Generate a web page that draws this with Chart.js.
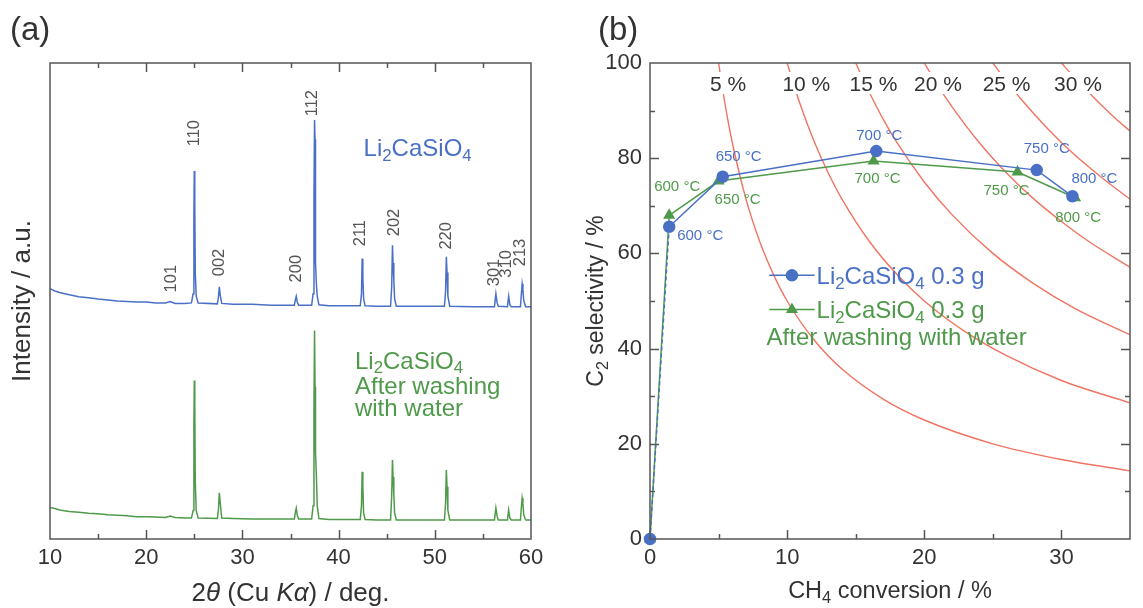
<!DOCTYPE html>
<html>
<head>
<meta charset="utf-8">
<script src="https://cdn.jsdelivr.net/npm/chart.js@4.4.1/dist/chart.umd.min.js"></script>
<style>
  body { margin: 0; background: #fff; }
  #wrap { position: relative; width: 1143px; height: 608px; overflow: hidden; }
  canvas { position: absolute; top: 0; }
  #xrd { left: 0; }
  #ocm { left: 580px; }
</style>
</head>
<body>
<div id="wrap">
  <canvas id="xrd" width="570" height="608"></canvas>
  <canvas id="ocm" width="563" height="608"></canvas>
</div>
<script>
// ---- (a) XRD patterns: 2θ / deg. vs intensity (a.u., offset traces) ----
const twoTheta = [
  10.0, 10.5, 11.0, 12.0, 13.0, 14.0, 15.0, 16.0, 17.0, 18.0, 19.0, 20.0, 21.0, 22.0, 22.5, 23.0, 24.0, 24.7,
  24.88, 24.96, 25.0, 25.05, 25.1, 25.2, 25.4,
  27.4, 27.52, 27.6, 27.7, 27.85,
  29.0, 31.0, 33.0, 35.4, 35.52, 35.6, 35.7, 35.85,
  37.2, 37.35, 37.44, 37.5, 37.55, 37.6, 37.68, 37.78, 37.95,
  39.0, 41.0, 42.25, 42.38, 42.45, 42.52, 42.6, 42.75,
  44.0, 45.4, 45.52, 45.6, 45.66, 45.74, 45.82, 46.0,
  48.0, 51.0, 51.12, 51.2, 51.27, 51.36, 51.55,
  54.0, 56.2, 56.35, 56.48, 56.6, 57.55, 57.68, 57.8, 57.95,
  58.9, 59.02, 59.08, 59.16, 59.25, 59.45, 60.0
];
const asMade = [
  52.6, 52.1, 51.8, 51.3, 50.9, 50.7, 50.4, 50.2, 50.0, 49.9, 49.8, 49.8, 49.6, 49.6, 49.9, 49.5, 49.5, 49.6,
  51.5, 68.0, 77.3, 70.0, 56.0, 51.0, 49.6,
  49.4, 51.0, 53.0, 51.2, 49.5,
  49.3, 49.3, 49.1, 49.1, 50.4, 51.0, 49.8, 49.1,
  49.1, 51.5, 72.0, 88.0, 84.0, 58.0, 54.0, 51.0, 49.2,
  49.0, 49.0, 49.0, 51.5, 58.9, 55.0, 50.5, 49.0,
  48.9, 48.9, 53.0, 61.7, 58.0, 54.5, 50.5, 48.9,
  48.9, 48.9, 52.0, 59.3, 56.0, 51.0, 48.9,
  48.8, 48.8, 51.5, 49.6, 48.9, 48.8, 51.0, 49.2, 48.8,
  48.8, 52.0, 53.6, 52.4, 50.0, 48.8, 48.8
];
const washed = [
  6.6, 6.4, 6.1, 5.8, 5.6, 5.4, 5.3, 5.1, 5.0, 4.9, 4.7, 4.7, 4.6, 4.5, 4.8, 4.5, 4.4, 4.4,
  6.0, 24.0, 33.3, 28.0, 12.0, 6.0, 4.4,
  4.3, 6.5, 9.7, 7.5, 4.4,
  4.3, 4.2, 4.2, 4.2, 5.8, 6.5, 5.0, 4.2,
  4.2, 7.0, 28.0, 43.8, 32.0, 18.0, 14.0, 7.0, 4.3,
  4.1, 4.1, 4.1, 7.0, 14.1, 11.0, 5.5, 4.1,
  4.0, 4.0, 9.0, 16.6, 13.0, 9.5, 5.5, 4.0,
  4.0, 4.0, 7.5, 14.5, 11.0, 6.0, 4.0,
  4.0, 4.0, 6.5, 4.8, 4.0, 4.0, 6.1, 4.4, 4.0,
  4.0, 7.2, 8.6, 7.5, 5.0, 4.0, 4.0
];
// reflection indices with the point (2θ, intensity) where each label starts
const hkl = [
  ['101', 22.6, 51.8], ['110', 25.0, 82.5], ['002', 27.6, 55.2], ['200', 35.6, 53.9],
  ['112', 37.3, 88.8], ['211', 42.3, 61.5], ['202', 45.8, 63.6], ['220', 51.2, 60.8],
  ['301', 56.2, 53.1], ['310', 57.4, 54.9], ['213', 58.9, 57.3]
];

// ---- (b) OCM results: CH4 conversion / % vs C2 selectivity / % ----
const temps = ['', '600 °C', '650 °C', '700 °C', '750 °C', '800 °C'];
const convFresh = [0, 1.4, 5.3, 16.5, 28.2, 30.8];
const selFresh = [0, 65.6, 76.1, 81.5, 77.5, 72.0];
const convWashed = [0, 1.4, 5.0, 16.3, 26.8, 31.0];
const selWashed = [0, 68.0, 75.2, 79.4, 77.1, 71.7];
// iso-yield lines, C2 yield = conversion × selectivity / 100
const yieldLevels = [5, 10, 15, 20, 25, 30];
const iso5 = [[5, 100], [5.5, 90.9], [6, 83.3], [7, 71.4], [8, 62.5], [9, 55.6], [10, 50], [12, 41.7], [14, 35.7], [17, 29.4], [20, 25], [25, 20], [30, 16.7], [35, 14.3]];
const iso10 = [[10, 100], [11, 90.9], [12, 83.3], [13, 76.9], [14, 71.4], [16, 62.5], [18, 55.6], [20, 50], [23, 43.5], [26, 38.5], [30, 33.3], [35, 28.6]];
const iso15 = [[15, 100], [16, 93.8], [17, 88.2], [18, 83.3], [20, 75], [22, 68.2], [25, 60], [28, 53.6], [31, 48.4], [35, 42.9]];
const iso20 = [[20, 100], [21, 95.2], [22, 90.9], [24, 83.3], [26, 76.9], [28, 71.4], [30, 66.7], [32, 62.5], [35, 57.1]];
const iso25 = [[25, 100], [26, 96.2], [27, 92.6], [29, 86.2], [31, 80.6], [33, 75.8], [35, 71.4]];
const iso30 = [[30, 100], [31, 96.8], [32, 93.8], [33, 90.9], [34, 88.2], [35, 85.7]];
const isoLines = [iso5, iso10, iso15, iso20, iso25, iso30];
const isoLabelX = [5.7, 11.4, 16.3, 21.0, 26.0, 31.2];

// temperature label offsets from their points, px
const freshTagOffset = [null, [31, 9], [16, -20], [3, -15], [10, -21], [22, -17]];
const washedTagOffset = [null, [8, -28], [19, 19], [4, 18], [-11, 19], [3, 20]];

const FONT = '"Liberation Sans", Arial, Helvetica, sans-serif';
const INK = '#333';
const FRAME = '#555';
const BLUE = '#4a70c6';
const GREEN = '#4f9a4a';
const RED = '#f07462';

// '_x' -> subscript char, '*...*' -> italic run
function parseRich(str) {
  const parts = [];
  let italic = false, buf = '';
  const flush = () => { if (buf) parts.push([buf, italic ? 'it' : '']); buf = ''; };
  for (let i = 0; i < str.length; i++) {
    const c = str[i];
    if (c === '_') { flush(); parts.push([str[++i], 'sub']); }
    else if (c === '*') { flush(); italic = !italic; }
    else buf += c;
  }
  flush();
  return parts;
}

// y is the vertical middle of the capitals
function drawRich(ctx, str, x, y, size, color, align) {
  const parts = parseRich(str);
  const fontFor = st => (st === 'it' ? 'italic ' : '') + (st === 'sub' ? size * 0.7 : size) + 'px ' + FONT;
  let width = 0;
  const widths = parts.map(([t, st]) => {
    ctx.font = fontFor(st);
    const w = ctx.measureText(t).width;
    width += w;
    return w;
  });
  let cx = align === 'center' ? x - width / 2 : align === 'right' ? x - width : x;
  const base = y + size * 0.36;
  ctx.fillStyle = color;
  ctx.textAlign = 'left';
  ctx.textBaseline = 'alphabetic';
  parts.forEach(([t, st], i) => {
    ctx.font = fontFor(st);
    ctx.fillText(t, cx, st === 'sub' ? base + size * 0.2 : base);
    cx += widths[i];
  });
  return width;
}

function drawVertical(ctx, str, x, y, size, color) {
  ctx.save();
  ctx.translate(x, y);
  ctx.rotate(-Math.PI / 2);
  drawRich(ctx, str, 0, 0, size, color, 'center');
  ctx.restore();
}

// frame plus inward tick marks
function drawFrame(chart, sides) {
  const { ctx, chartArea: a } = chart;
  ctx.save();
  ctx.strokeStyle = FRAME;
  ctx.lineWidth = 1.5;
  ctx.strokeRect(a.left, a.top, a.right - a.left, a.bottom - a.top);
  for (const s of sides) {
    const scale = chart.scales[s.axis];
    for (let v = scale.min + s.step; v < scale.max - 1e-6; v += s.step) {
      const p = Math.round(scale.getPixelForValue(v)) + 0.5;
      const isMajor = Math.abs(v / s.major - Math.round(v / s.major)) < 1e-6;
      const len = isMajor ? 9 : 5;
      ctx.beginPath();
      if (s.side === 'bottom') { ctx.moveTo(p, a.bottom); ctx.lineTo(p, a.bottom - len); }
      if (s.side === 'top') { ctx.moveTo(p, a.top); ctx.lineTo(p, a.top + len); }
      if (s.side === 'left') { ctx.moveTo(a.left, p); ctx.lineTo(a.left + len, p); }
      if (s.side === 'right') { ctx.moveTo(a.right, p); ctx.lineTo(a.right - len, p); }
      ctx.stroke();
    }
  }
  ctx.restore();
}

function panelLabel(ctx, text, x) {
  ctx.save();
  ctx.font = '33px ' + FONT;
  ctx.fillStyle = INK;
  ctx.textAlign = 'left';
  ctx.textBaseline = 'alphabetic';
  ctx.fillText(text, x, 40);
  ctx.restore();
}

const tickFont = { family: FONT, size: 22 };

// ---------- panel (a) ----------
const xrdDecor = {
  id: 'xrdDecor',
  afterDraw(chart) {
    const { ctx, chartArea: a, scales: { x, y } } = chart;
    ctx.save();
    ctx.beginPath();
    ctx.rect(a.left, a.top, a.right - a.left, a.bottom - a.top);
    ctx.clip();
    for (const [t, tt, inten] of hkl) {
      ctx.save();
      ctx.translate(x.getPixelForValue(tt), y.getPixelForValue(inten));
      ctx.rotate(-Math.PI / 2);
      ctx.font = '16.5px ' + FONT;
      ctx.fillStyle = '#555';
      ctx.textAlign = 'left';
      ctx.textBaseline = 'middle';
      ctx.fillText(t, 0, 0);
      ctx.restore();
    }
    drawRich(ctx, 'Li_2CaSiO_4', x.getPixelForValue(42.6), y.getPixelForValue(82.2), 24, BLUE, 'left');
    drawRich(ctx, 'Li_2CaSiO_4', x.getPixelForValue(41.7), y.getPixelForValue(37.6), 24, GREEN, 'left');
    drawRich(ctx, 'After washing', x.getPixelForValue(41.7), y.getPixelForValue(32.3), 24, GREEN, 'left');
    drawRich(ctx, 'with water', x.getPixelForValue(41.7), y.getPixelForValue(27.7), 24, GREEN, 'left');
    ctx.restore();

    drawFrame(chart, [
      { axis: 'x', side: 'bottom', step: 5, major: 10 },
      { axis: 'x', side: 'top', step: 5, major: 10 }
    ]);
    drawRich(ctx, '2*θ* (Cu *Kα*) / deg.', (a.left + a.right) / 2, 592, 26, INK, 'center');
    drawVertical(ctx, 'Intensity / a.u.', 21, (a.top + a.bottom) / 2, 26, INK);
    panelLabel(ctx, '(a)', 10);
  }
};

new Chart(document.getElementById('xrd'), {
  type: 'scatter',
  data: {
    datasets: [
      {
        data: twoTheta.map((t, i) => ({ x: t, y: asMade[i] })),
        showLine: true, borderColor: BLUE, borderWidth: 1.5, pointRadius: 0
      },
      {
        data: twoTheta.map((t, i) => ({ x: t, y: washed[i] })),
        showLine: true, borderColor: GREEN, borderWidth: 1.5, pointRadius: 0
      }
    ]
  },
  options: {
    responsive: false,
    animation: false,
    events: [],
    layout: { padding: { left: 50, right: 39, top: 63, bottom: 0 } },
    plugins: { legend: { display: false }, tooltip: { enabled: false } },
    scales: {
      x: {
        type: 'linear', min: 10, max: 60,
        grid: { display: false, drawTicks: false },
        border: { display: false },
        ticks: { stepSize: 10, font: tickFont, color: INK, padding: 6, maxRotation: 0, autoSkip: false },
        afterFit(s) { s.height = 69; }
      },
      y: { display: false, min: 0, max: 100 }
    }
  },
  plugins: [xrdDecor]
});

// ---------- panel (b) ----------
const ocmDecor = {
  id: 'ocmDecor',
  afterDraw(chart) {
    const { ctx, chartArea: a, scales: { x, y } } = chart;

    // iso-yield labels on white boxes
    ctx.save();
    yieldLevels.forEach((lvl, i) => {
      const px = x.getPixelForValue(isoLabelX[i]);
      const py = y.getPixelForValue(95.8);
      ctx.font = '21px ' + FONT;
      const w = ctx.measureText(lvl + ' %').width;
      ctx.fillStyle = '#fff';
      ctx.fillRect(px - w / 2 - 2, py - 11, w + 4, 22);
      drawRich(ctx, lvl + ' %', px, py, 21, INK, 'center');
    });

    // temperature tags
    const tags = (conv, sel, offs, color) => {
      conv.forEach((c, i) => {
        if (!temps[i]) return;
        const px = x.getPixelForValue(c) + offs[i][0];
        const py = y.getPixelForValue(sel[i]) + offs[i][1];
        ctx.font = '15px ' + FONT;
        ctx.fillStyle = color;
        ctx.textAlign = 'center';
        ctx.textBaseline = 'middle';
        ctx.fillText(temps[i], px, py);
      });
    };
    tags(convFresh, selFresh, freshTagOffset, BLUE);
    tags(convWashed, selWashed, washedTagOffset, GREEN);

    // legend
    const key = (yv, color, style, text) => {
      const x1 = x.getPixelForValue(8.7), x2 = x.getPixelForValue(12.0), py = y.getPixelForValue(yv);
      ctx.strokeStyle = color;
      ctx.lineWidth = 1.5;
      ctx.beginPath();
      ctx.moveTo(x1, py);
      ctx.lineTo(x2, py);
      ctx.stroke();
      ctx.fillStyle = color;
      Chart.helpers.drawPoint(ctx, { pointStyle: style, radius: 5.5, borderWidth: 1 }, (x1 + x2) / 2, py);
      drawRich(ctx, text, x2 + 2, py, 24, color, 'left');
    };
    key(55.4, BLUE, 'circle', 'Li_2CaSiO_4 0.3 g');
    key(48.2, GREEN, 'triangle', 'Li_2CaSiO_4 0.3 g');
    drawRich(ctx, 'After washing with water', x.getPixelForValue(8.5), y.getPixelForValue(42.5), 24, GREEN, 'left');
    ctx.restore();

    drawFrame(chart, [
      { axis: 'x', side: 'bottom', step: 5, major: 10 },
      { axis: 'y', side: 'left', step: 10, major: 20 },
      { axis: 'y', side: 'right', step: 10, major: 20 }
    ]);
    drawRich(ctx, 'CH_4 conversion / %', (a.left + a.right) / 2, 590, 23.5, INK, 'center');
    drawVertical(ctx, 'C_2 selectivity / %', 15, (a.top + a.bottom) / 2, 23, INK);
    panelLabel(ctx, '(b)', 18);
  }
};

const isoSets = isoLines.map(pts => ({
  data: pts.map(([c, s]) => ({ x: c, y: s })),
  showLine: true, borderColor: RED, borderWidth: 1.4, pointRadius: 0,
  cubicInterpolationMode: 'monotone', order: 10
}));

new Chart(document.getElementById('ocm'), {
  type: 'scatter',
  data: {
    datasets: [
      ...isoSets,
      {
        data: convWashed.map((c, i) => ({ x: c, y: selWashed[i] })),
        showLine: true, borderColor: GREEN, borderWidth: 1.5,
        pointStyle: 'triangle', pointRadius: 5.5, pointBackgroundColor: GREEN, pointBorderColor: GREEN,
        clip: false, order: 2
      },
      {
        data: convFresh.map((c, i) => ({ x: c, y: selFresh[i] })),
        showLine: true, borderColor: BLUE, borderWidth: 1.5,
        pointStyle: 'circle', pointRadius: 5.5, pointBackgroundColor: BLUE, pointBorderColor: BLUE,
        segment: { borderDash: ctx => ctx.p0DataIndex === 0 ? [4, 3] : undefined },
        clip: false, order: 1
      }
    ]
  },
  options: {
    responsive: false,
    animation: false,
    events: [],
    layout: { padding: { left: 0, right: 13, top: 63, bottom: 0 } },
    plugins: { legend: { display: false }, tooltip: { enabled: false } },
    scales: {
      x: {
        type: 'linear', min: 0, max: 35,
        grid: { display: false, drawTicks: false },
        border: { display: false },
        ticks: { stepSize: 10, includeBounds: false, font: tickFont, color: INK, padding: 6, maxRotation: 0, autoSkip: false },
        afterFit(s) { s.height = 69; }
      },
      y: {
        type: 'linear', min: 0, max: 100,
        grid: { display: false, drawTicks: false },
        border: { display: false },
        ticks: { stepSize: 20, font: tickFont, color: INK, padding: 8 },
        afterFit(s) { s.width = 70; }
      }
    }
  },
  plugins: [ocmDecor]
});
</script>
</body>
</html>
